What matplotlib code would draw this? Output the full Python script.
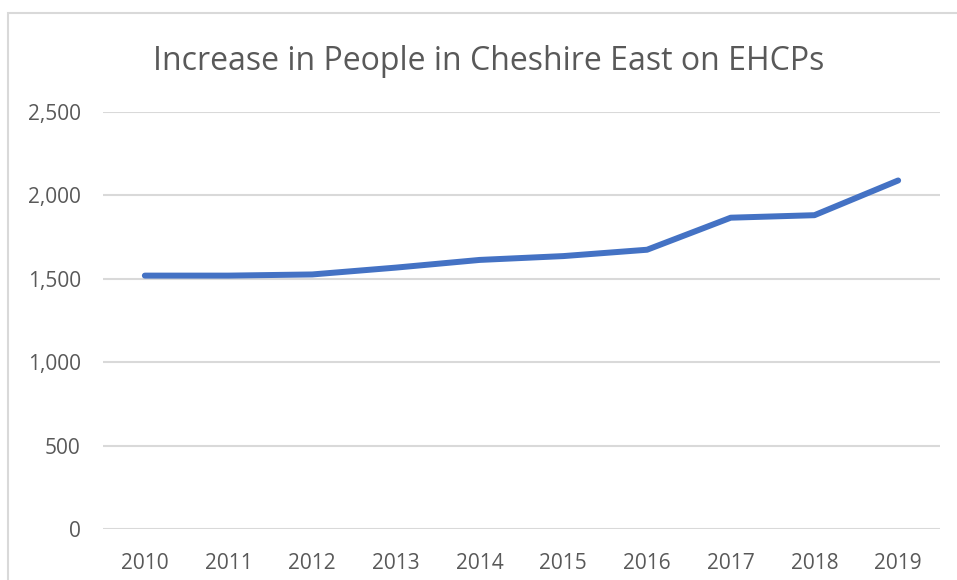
import matplotlib
matplotlib.use("Agg")
import matplotlib.pyplot as plt
from matplotlib.patches import Rectangle
from matplotlib.ticker import FuncFormatter

years = ["2010", "2011", "2012", "2013", "2014", "2015", "2016", "2017", "2018", "2019"]
people = [1518, 1518, 1525, 1566, 1612, 1635, 1673, 1865, 1880, 2088]
yticks = [0, 500, 1000, 1500, 2000, 2500]

W, H = 957, 580
fig = plt.figure(figsize=(W / 100, H / 100), dpi=100)
plt.rcParams['font.family'] = ['Open Sans', 'DejaVu Sans']

# chart frame (cropped at right and bottom)
fig.patches.append(Rectangle((8 / W, -0.1), 1.2, 1 - 13 / H + 0.1, transform=fig.transFigure,
                             fill=False, edgecolor='#D9D9D9', linewidth=1.5))

ax = fig.add_axes([103 / W, (H - 529) / H, (940 - 103) / W, (529 - 111.7) / H])
x = list(range(len(years)))
ax.plot(x, people, color='#4472C4', linewidth=4.3, solid_capstyle='round', solid_joinstyle='round', zorder=3)
ax.set_xlim(-0.5, len(years) - 0.5)
ax.set_ylim(0, 2500)
ax.set_yticks(yticks)
ax.yaxis.set_major_formatter(FuncFormatter(lambda v, p: f"{int(v):,}"))
ax.set_xticks(x)
ax.set_xticklabels(years)
ax.grid(axis='y', color='#D9D9D9', linewidth=1.5)
ax.set_axisbelow(True)
for s in ax.spines.values():
    s.set_visible(False)
ax.tick_params(length=0, colors='#595959', labelsize=15)
ax.tick_params(axis='y', pad=16)
ax.tick_params(axis='x', pad=17)

fig.text(489 / W, 1 - 61 / H, "Increase in People in Cheshire East on EHCPs", ha='center', va='center',
         fontsize=23, color='#595959')

fig.savefig("out.png", dpi=100)
